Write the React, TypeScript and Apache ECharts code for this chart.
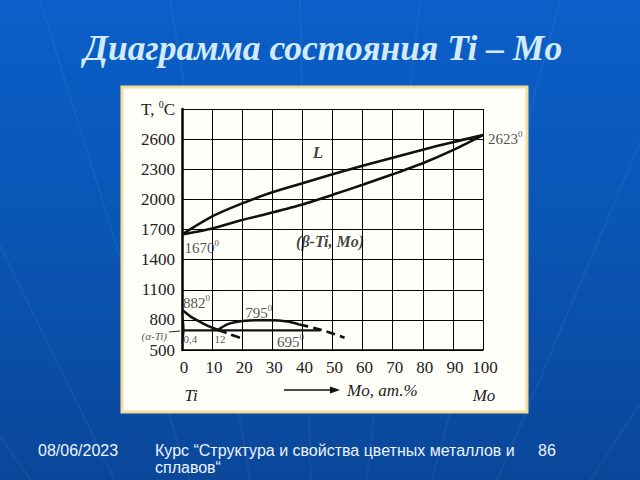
import React, { useEffect, useRef } from "react";
import * as echarts from "echarts";

// Composition, at.% Mo
const liquidusX = [0, 10, 20, 30, 40, 50, 60, 70, 80, 90, 100];
const liquidusT = [1650, 1830, 1960, 2070, 2160, 2250, 2335, 2415, 2495, 2570, 2640];
const solidusT = [1650, 1710, 1795, 1870, 1950, 2045, 2145, 2250, 2360, 2490, 2640];

const betaTransusX = [0, 3, 6, 9, 12];
const betaTransusT = [900, 830, 780, 735, 700];
const betaTransusDashX = [12, 16, 20];
const betaTransusDashT = [700, 656, 615];

const domeX = [12, 15, 20, 25, 30, 35, 39];
const domeT = [700, 755, 788, 797, 797, 783, 755];
const domeDashX = [39, 44, 49, 54];
const domeDashT = [755, 718, 675, 622];

const eutectoidX = [0, 46];
const eutectoidT = [695, 695];

const alphaX = [0, 0.6, 0.6, 0];
const alphaT = [870, 730, 680, 560];

const xTicks = { min: 0, max: 100, step: 10 };
const yTicks = { min: 500, max: 2900, step: 300 };

// annotations: [x, T, text, kind]
const annotations: [number, number, string, string][] = [
  [45.2, 2464, "L", "big"],
  [49.2, 1577, "(β-Ti, Mo)", "bigc"],
  [0.8, 1517, "1670{s|0}", "deg"],
  [101.7, 2604, "2623{s|0}", "deg"],
  [0.3, 969, "882{s|0}", "deg"],
  [21, 869, "795{s|0}", "deg"],
  [31.6, 580, "695{s|0}", "deg"],
  [0.5, 610, "0,4", "small"],
  [10.8, 610, "12", "small"],
  [-5, 643, "(α-Ti)", "alpha"],
];

const zip = (xs: number[], ys: number[]) => xs.map((x, i) => [x, ys[i]]);

const SERIF = "'Liberation Serif', 'DejaVu Serif', serif";
const SANS = "'Liberation Sans', Arial, sans-serif";

export default function App() {
  const ref = useRef<HTMLDivElement>(null);
  useEffect(() => {
    document.body.style.margin = "0";
    const chart = echarts.init(ref.current!, null, { renderer: "svg" });
    const solid = (name: string, data: number[][], w = 2.6) => ({
      name,
      type: "line",
      data,
      smooth: 0.25,
      symbol: "none",
      lineStyle: { color: "#111", width: w },
      z: 5,
    });
    const dashed = (name: string, data: number[][]) => ({
      name,
      type: "line",
      data,
      smooth: 0.25,
      symbol: "none",
      lineStyle: { color: "#111", width: 2.6, type: [9, 5] },
      z: 5,
    });
    const rays: any[] = [];
    const rayEnds = [-300, -120, 40, 170, 300, 420, 560, 700, 900];
    rayEnds.forEach((x) =>
      rays.push({
        type: "line",
        z: -2,
        shape: { x1: 320, y1: 900, x2: x, y2: 0 },
        style: { stroke: "rgba(150,200,255,0.07)", lineWidth: 2 },
      })
    );
    const richDeg = {
      s: { fontSize: 9, fontFamily: SERIF, color: "#222", padding: [0, 0, 9, 0] },
    };
    const labelFor = (kind: string) => {
      if (kind === "big")
        return { show: true, position: "inside", fontSize: 17, fontStyle: "italic", fontWeight: "bold", fontFamily: SERIF, color: "#111" };
      if (kind === "bigc")
        return { show: true, position: "inside", fontSize: 16, fontStyle: "italic", fontWeight: "bold", fontFamily: SERIF, color: "#111" };
      if (kind === "small")
        return { show: true, position: "right", distance: 0, fontSize: 11, fontFamily: SERIF, color: "#222" };
      if (kind === "alpha")
        return { show: true, position: "left", distance: 0, fontSize: 11, fontStyle: "italic", fontFamily: SERIF, color: "#222" };
      return { show: true, position: "right", distance: 0, fontSize: 15, fontFamily: SERIF, color: "#222", rich: richDeg };
    };
    chart.setOption({
      animation: false,
      backgroundColor: "transparent",
      grid: { left: 182, top: 109, width: 301, height: 241 },
      xAxis: {
        type: "value",
        min: xTicks.min,
        max: xTicks.max,
        interval: xTicks.step,
        axisLine: { show: true, lineStyle: { color: "#000", width: 1.5 } },
        axisTick: { show: false },
        axisLabel: { fontFamily: SERIF, fontSize: 17, color: "#222", margin: 9, padding: [0, 0, 0, 4] },
        splitLine: { show: true, lineStyle: { color: "#000", width: 1 } },
      },
      yAxis: {
        type: "value",
        min: yTicks.min,
        max: yTicks.max,
        interval: yTicks.step,
        axisLine: { show: true, lineStyle: { color: "#000", width: 2.5 } },
        axisTick: { show: false },
        axisLabel: {
          fontFamily: SERIF,
          fontSize: 17,
          color: "#222",
          margin: 7,
          formatter: (v: number) => (v === yTicks.max ? "T, {s|0}C" : String(v)),
          rich: { s: { fontSize: 10, fontFamily: SERIF, color: "#222", padding: [0, 0, 9, 0] } },
        },
        splitLine: { show: true, lineStyle: { color: "#000", width: 1 } },
      },
      series: [
        solid("liquidus", zip(liquidusX, liquidusT)),
        solid("solidus", zip(liquidusX, solidusT)),
        solid("transus", zip(betaTransusX, betaTransusT)),
        dashed("transusDash", zip(betaTransusDashX, betaTransusDashT)),
        solid("dome", zip(domeX, domeT)),
        dashed("domeDash", zip(domeDashX, domeDashT)),
        solid("eutectoid", zip(eutectoidX, eutectoidT), 2.4),
        solid("alpha", zip(alphaX, alphaT), 1.5),
        {
          type: "scatter",
          symbolSize: 0,
          clip: false,
          z: 6,
          data: annotations.map(([x, t, text, kind]) => ({
            value: [x, t],
            label: { ...labelFor(kind), formatter: text },
          })),
        },
      ],
      graphic: [
        ...rays,
        {
          type: "rect",
          z: -1,
          shape: { x: 122, y: 87, width: 405, height: 325 },
          style: { fill: "#fffffa", stroke: "#f3dd9c", lineWidth: 3 },
        },
        {
          type: "text",
          x: 323,
          y: 48,
          style: {
            text: "Диаграмма состояния Ti – Mo",
            font: `italic bold 35.5px ${SERIF}`,
            fill: "#d2ebfc",
            textAlign: "center",
            textVerticalAlign: "middle",
          },
        },
        {
          type: "text",
          x: 191,
          y: 395,
          style: { text: "Ti", font: `italic 17px ${SERIF}`, fill: "#222", textAlign: "center", textVerticalAlign: "middle" },
        },
        {
          type: "line",
          shape: { x1: 284, y1: 390, x2: 332, y2: 390 },
          style: { stroke: "#111", lineWidth: 1.5 },
        },
        {
          type: "polygon",
          shape: { points: [[330, 386.5], [340, 390], [330, 393.5]] },
          style: { fill: "#111" },
        },
        {
          type: "text",
          x: 347,
          y: 390,
          style: { text: "Mo, ат.%", font: `italic 17px ${SERIF}`, fill: "#222", textAlign: "left", textVerticalAlign: "middle" },
        },
        {
          type: "text",
          x: 484,
          y: 395,
          style: { text: "Mo", font: `italic 17px ${SERIF}`, fill: "#222", textAlign: "center", textVerticalAlign: "middle" },
        },
        {
          type: "line",
          shape: { x1: 169, y1: 332, x2: 180, y2: 331 },
          style: { stroke: "#222", lineWidth: 1 },
        },
        {
          type: "text",
          x: 38,
          y: 450,
          style: { text: "08/06/2023", font: `16px ${SANS}`, fill: "#eef4ff", textVerticalAlign: "middle" },
        },
        {
          type: "text",
          x: 155,
          y: 450,
          style: { text: "Курс “Структура и свойства цветных металлов и", font: `16px ${SANS}`, fill: "#eef4ff", textVerticalAlign: "middle" },
        },
        {
          type: "text",
          x: 155,
          y: 467,
          style: { text: "сплавов“", font: `16px ${SANS}`, fill: "#eef4ff", textVerticalAlign: "middle" },
        },
        {
          type: "text",
          x: 538,
          y: 450,
          style: { text: "86", font: `16px ${SANS}`, fill: "#eef4ff", textVerticalAlign: "middle" },
        },
      ],
    });
    return () => chart.dispose();
  }, []);
  return (
    <div
      ref={ref}
      style={{
        position: "fixed",
        left: 0,
        top: 0,
        width: 640,
        height: 480,
        background: "linear-gradient(180deg, #0b5fc8 0%, #0a56b6 45%, #0a4799 100%)",
      }}
    />
  );
}
